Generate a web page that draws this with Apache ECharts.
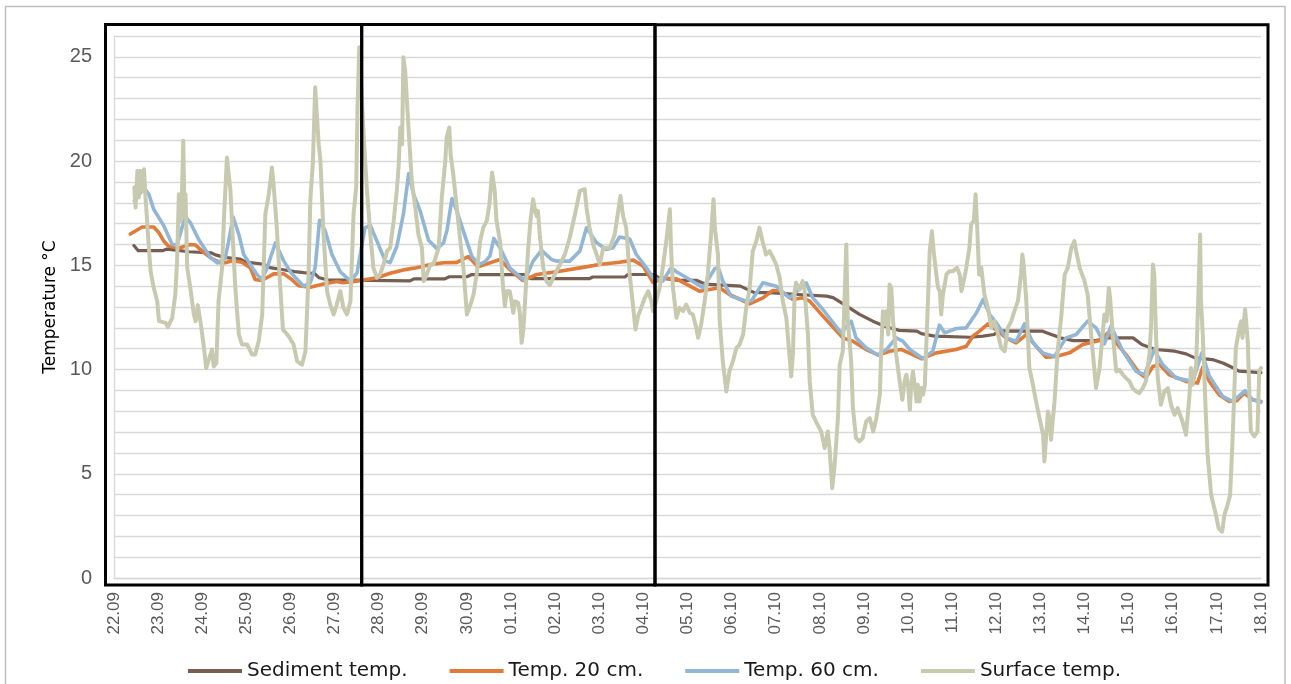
<!DOCTYPE html>
<html>
<head>
<meta charset="utf-8">
<title>Temperature °C</title>
<script src="https://cdn.jsdelivr.net/npm/echarts@6/dist/echarts.min.js"></script>
<style>
  html, body { margin: 0; padding: 0; background: #ffffff; }
  #chart { width: 1291px; height: 684px; }
</style>
</head>
<body>
<div id="chart"></div>
<script>
// Day labels on the time axis (one per day, starting at 22.09 00:00 = day 0)
const dayLabels = ['22.09','23.09','24.09','25.09','26.09','27.09','28.09','29.09','30.09',
  '01.10','02.10','03.10','04.10','05.10','06.10','07.10','08.10','09.10','10.10',
  '11.10','12.10','13.10','14.10','15.10','16.10','17.10','18.10'];

// Labelled temperature ticks
const tempTicks = [0, 5, 10, 15, 20, 25];

const seriesNames = ['Sediment temp.', 'Temp. 20 cm.', 'Temp. 60 cm.', 'Surface temp.'];

// [day since 22.09, °C]
const sediment = [[0.45,15.95],[0.55,15.7],[1.1,15.7],[1.2,15.78],[1.45,15.72],[1.7,15.65],[2.2,15.6],
  [2.3,15.5],[2.5,15.38],[2.85,15.3],[3.0,15.15],[3.4,15.05],[3.5,14.9],[3.8,14.8],[4.1,14.7],[4.3,14.65],
  [4.55,14.6],[4.65,14.4],[4.85,14.3],[6.7,14.25],[6.8,14.35],[7.5,14.35],[7.6,14.45],[8.0,14.45],
  [8.1,14.55],[9.3,14.55],[9.45,14.36],[10.78,14.36],[10.85,14.44],[11.58,14.44],[11.65,14.56],
  [12.22,14.56],[12.35,14.41],[12.8,14.28],[13.2,14.28],[13.4,14.1],[14.2,14.0],[14.5,13.7],[14.95,13.68],
  [15.5,13.6],[16.15,13.52],[16.3,13.45],[16.6,13.05],[16.9,12.65],[17.2,12.32],[17.5,12.05],[17.8,11.88],
  [18.2,11.84],[18.3,11.72],[18.6,11.6],[19.4,11.55],[19.7,11.6],[19.95,11.68],[20.05,11.85],[21.05,11.84],
  [21.2,11.72],[21.45,11.52],[21.75,11.39],[22.25,11.39],[22.55,11.52],[23.1,11.52],[23.3,11.2],
  [23.6,10.96],[24.05,10.88],[24.3,10.75],[24.5,10.56],[24.9,10.48],[25.15,10.3],[25.35,10.1],
  [25.5,9.92],[26.0,9.85]];

const temp20 = [[0.37,16.5],[0.64,16.84],[0.9,16.84],[1.02,16.56],[1.13,16.16],[1.24,15.92],[1.5,15.84],
  [1.73,16.0],[1.85,15.97],[2.0,15.68],[2.19,15.36],[2.41,15.12],[2.52,15.12],[2.68,15.22],[2.9,15.15],
  [3.09,14.88],[3.2,14.32],[3.35,14.27],[3.62,14.59],[3.85,14.59],[4.03,14.32],[4.18,14.02],[4.45,13.95],
  [4.75,14.1],[5.05,14.22],[5.2,14.16],[5.5,14.24],[5.96,14.4],[6.26,14.62],[6.56,14.78],[6.86,14.88],
  [7.17,15.04],[7.47,15.12],[7.77,15.14],[8.03,15.42],[8.22,15.0],[8.3,14.96],[8.75,15.28],[8.97,14.8],
  [9.27,14.27],[9.58,14.56],[10.03,14.69],[10.63,14.9],[11.0,15.04],[11.46,15.15],[11.77,15.25],
  [11.99,14.97],[12.22,14.17],[12.44,14.38],[12.75,14.35],[13.27,13.76],[13.73,13.92],[13.95,13.6],
  [14.41,13.15],[14.71,13.44],[14.93,13.79],[15.09,13.79],[15.39,13.36],[15.61,13.44],[15.77,13.28],
  [16.07,12.56],[16.52,11.52],[16.75,11.36],[17.05,10.96],[17.32,10.7],[17.58,10.88],[17.85,10.96],
  [18.07,10.75],[18.3,10.52],[18.64,10.8],[19.09,10.96],[19.32,11.12],[19.47,11.6],[19.62,11.84],
  [19.81,12.19],[20.04,11.84],[20.22,11.52],[20.45,11.28],[20.68,11.68],[20.9,11.12],[21.13,10.59],
  [21.36,10.63],[21.66,10.8],[21.96,11.2],[22.34,11.39],[22.53,11.76],[22.94,10.72],[23.24,9.83],
  [23.39,9.6],[23.55,10.15],[23.7,10.24],[23.92,9.75],[24.3,9.43],[24.56,9.35],[24.68,10.11],
  [24.83,9.43],[25.05,8.79],[25.28,8.47],[25.45,8.5],[25.62,8.87],[25.81,8.55],[26.0,8.47]];

const temp60 = [[0.46,18.09],[0.68,18.7],[0.79,18.41],[0.9,17.69],[1.13,16.89],[1.32,16.0],[1.43,15.97],
  [1.54,16.8],[1.62,17.32],[1.73,17.05],[1.92,16.24],[2.19,15.36],[2.34,15.12],[2.52,15.33],[2.6,16.16],
  [2.7,17.32],[2.83,16.48],[2.94,15.52],[3.09,15.04],[3.24,14.56],[3.35,14.32],[3.47,14.88],[3.66,16.08],
  [3.85,15.2],[4.03,14.59],[4.3,14.0],[4.45,14.16],[4.56,14.88],[4.66,17.16],[4.79,16.64],[4.94,15.52],
  [5.13,14.69],[5.36,14.24],[5.51,14.64],[5.58,15.52],[5.69,16.8],[5.81,16.93],[5.96,16.16],[6.15,15.2],
  [6.26,15.13],[6.41,15.9],[6.56,17.45],[6.68,19.4],[6.79,18.41],[6.94,17.61],[7.13,16.2],[7.32,15.8],
  [7.47,16.08],[7.55,16.7],[7.66,18.2],[7.77,17.61],[7.92,16.64],[8.11,15.44],[8.26,15.04],[8.4,15.15],
  [8.52,15.44],[8.61,16.29],[8.75,15.84],[8.97,14.88],[9.31,14.27],[9.5,15.2],[9.69,15.72],[9.92,15.28],
  [10.03,15.2],[10.33,15.2],[10.56,15.68],[10.71,16.8],[10.94,16.08],[11.16,15.76],[11.31,15.84],
  [11.46,16.36],[11.69,16.26],[11.84,15.52],[12.07,14.88],[12.22,14.4],[12.44,14.24],[12.63,14.88],
  [12.75,14.69],[13.05,14.32],[13.35,13.92],[13.62,14.85],[13.7,14.88],[13.8,14.24],[13.99,13.52],
  [14.33,13.28],[14.45,13.3],[14.71,14.16],[15.01,14.0],[15.31,13.44],[15.69,14.16],[15.84,13.44],
  [16.07,12.88],[16.48,11.76],[16.71,12.32],[16.82,11.52],[17.05,11.04],[17.31,10.7],[17.51,10.96],
  [17.73,11.52],[17.88,11.36],[18.04,10.96],[18.34,10.52],[18.56,10.88],[18.71,12.13],[18.83,11.76],
  [19.09,11.97],[19.32,12.0],[19.55,12.72],[19.7,13.36],[19.85,12.64],[20.0,12.24],[20.22,11.52],
  [20.45,11.36],[20.64,12.19],[20.83,11.28],[21.05,10.8],[21.32,10.63],[21.58,11.52],[21.81,11.68],
  [22.07,12.32],[22.26,12.0],[22.45,11.23],[22.6,12.08],[22.87,10.88],[23.17,9.91],[23.36,9.75],
  [23.58,10.96],[23.77,10.24],[24.07,9.6],[24.45,9.43],[24.66,10.8],[24.83,9.68],[25.13,8.71],
  [25.36,8.47],[25.64,8.99],[25.81,8.55],[26.0,8.44]];

const surface = [[0.46,18.73],[0.49,17.77],[0.53,19.53],[0.56,18.25],[0.6,19.53],[0.64,18.57],[0.68,19.61],
  [0.71,18.41],[0.75,17.13],[0.79,15.84],[0.83,14.72],[0.9,13.92],[0.98,13.28],[1.02,12.32],[1.17,12.24],
  [1.22,12.03],[1.32,12.48],[1.39,13.6],[1.43,15.2],[1.47,18.41],[1.51,17.13],[1.54,18.41],[1.57,20.97],
  [1.6,17.29],[1.62,18.41],[1.66,14.88],[1.73,13.92],[1.81,12.64],[1.85,12.32],[1.9,13.09],[1.97,12.16],
  [2.03,11.2],[2.09,10.07],[2.15,10.47],[2.22,10.96],[2.26,10.15],[2.32,10.31],[2.37,13.28],[2.45,14.88],
  [2.49,17.13],[2.56,20.17],[2.6,20.25],[2.64,18.57],[2.68,16.81],[2.75,13.92],[2.83,11.68],[2.9,11.2],
  [3.02,11.2],[3.13,10.72],[3.2,10.72],[3.28,11.36],[3.36,12.64],[3.43,17.45],[3.51,18.41],[3.58,19.69],
  [3.62,18.81],[3.69,16.81],[3.77,13.92],[3.83,11.92],[3.96,11.6],[4.07,11.2],[4.15,10.4],[4.26,10.23],
  [4.34,10.88],[4.41,14.56],[4.45,18.09],[4.51,20.01],[4.56,23.54],[4.64,20.81],[4.68,20.01],[4.75,16.48],
  [4.83,13.76],[4.9,13.12],[4.98,12.64],[5.05,13.12],[5.13,13.76],[5.2,12.96],[5.28,12.64],[5.36,13.28],
  [5.43,17.45],[5.49,18.73],[5.52,22.57],[5.56,25.46],[5.62,22.89],[5.67,20.81],[5.73,18.73],[5.81,16.48],
  [5.88,14.88],[5.96,14.4],[6.03,14.56],[6.11,15.04],[6.19,15.68],[6.26,15.84],[6.34,17.13],[6.41,18.57],
  [6.45,19.69],[6.49,21.61],[6.53,20.81],[6.56,24.98],[6.6,24.34],[6.64,22.89],[6.68,21.45],[6.75,19.05],
  [6.83,17.77],[6.9,16.48],[6.98,15.84],[7.02,14.24],[7.09,14.56],[7.17,15.04],[7.24,15.04],[7.36,15.84],
  [7.43,18.25],[7.51,20.01],[7.54,21.13],[7.6,21.61],[7.63,20.33],[7.69,19.37],[7.77,17.77],[7.85,16.16],
  [7.92,14.88],[8.0,12.64],[8.07,13.04],[8.15,13.6],[8.22,14.56],[8.3,16.16],[8.37,16.81],[8.45,17.13],
  [8.51,17.93],[8.57,19.45],[8.63,18.57],[8.67,17.13],[8.75,16.16],[8.82,13.92],[8.86,13.04],[8.9,13.76],
  [8.97,13.76],[9.01,13.28],[9.05,12.72],[9.09,13.28],[9.16,13.2],[9.2,12.72],[9.24,11.28],[9.28,11.92],
  [9.34,14.08],[9.39,15.84],[9.44,17.13],[9.5,18.17],[9.54,17.69],[9.58,17.37],[9.61,17.61],[9.65,16.48],
  [9.73,14.88],[9.8,14.24],[9.88,14.05],[9.99,14.56],[10.11,15.04],[10.22,15.52],[10.33,16.32],
  [10.45,17.45],[10.56,18.57],[10.67,18.65],[10.71,17.77],[10.78,16.81],[10.86,16.0],[10.94,15.52],
  [11.01,15.04],[11.09,15.84],[11.24,15.84],[11.35,16.48],[11.43,17.61],[11.48,18.33],[11.54,17.37],
  [11.61,16.81],[11.69,14.56],[11.77,12.96],[11.82,11.92],[11.88,12.56],[11.95,12.96],[12.03,13.44],
  [12.11,13.76],[12.18,13.28],[12.22,12.8],[12.29,13.28],[12.37,13.92],[12.45,15.04],[12.52,16.16],
  [12.6,17.69],[12.63,15.68],[12.67,13.92],[12.75,12.48],[12.82,12.96],[12.9,12.8],[12.97,13.12],
  [13.05,12.72],[13.12,12.64],[13.2,12.0],[13.24,11.52],[13.31,12.16],[13.39,13.28],[13.46,14.56],
  [13.54,16.64],[13.59,18.17],[13.62,16.81],[13.69,15.52],[13.73,12.32],[13.8,10.4],[13.88,8.95],
  [13.95,9.91],[14.03,10.4],[14.11,11.04],[14.18,11.2],[14.26,11.68],[14.33,12.96],[14.41,13.92],
  [14.48,15.68],[14.56,16.16],[14.63,16.81],[14.67,16.81],[14.71,16.08],[14.78,15.52],[14.86,15.68],
  [14.94,15.36],[15.01,15.04],[15.09,14.4],[15.16,13.28],[15.24,12.48],[15.31,10.72],[15.35,9.67],
  [15.39,10.72],[15.43,13.76],[15.46,14.16],[15.54,13.84],[15.61,14.24],[15.65,13.92],[15.73,11.68],
  [15.77,9.43],[15.84,7.83],[15.95,7.35],[16.03,7.03],[16.11,6.23],[16.18,7.03],[16.22,6.23],[16.28,4.31],
  [16.33,5.27],[16.41,7.67],[16.45,10.23],[16.52,10.88],[16.6,16.0],[16.63,12.48],[16.71,10.4],
  [16.75,8.15],[16.82,6.71],[16.9,6.55],[16.97,6.71],[17.05,7.51],[17.13,7.67],[17.21,7.03],[17.28,7.67],
  [17.36,8.79],[17.39,10.88],[17.43,12.8],[17.47,12.16],[17.51,12.8],[17.55,11.68],[17.58,14.08],
  [17.62,13.92],[17.66,12.32],[17.73,10.72],[17.81,9.43],[17.87,8.55],[17.92,9.43],[17.96,9.75],
  [18.0,9.27],[18.04,8.07],[18.07,9.27],[18.11,9.91],[18.15,9.27],[18.19,8.47],[18.22,9.27],[18.26,8.47],
  [18.3,9.11],[18.34,8.79],[18.38,9.27],[18.45,13.28],[18.49,15.68],[18.54,16.64],[18.58,15.68],
  [18.64,14.56],[18.68,13.92],[18.72,13.76],[18.75,12.64],[18.79,13.6],[18.87,14.56],[18.94,14.72],
  [19.02,14.72],[19.11,14.88],[19.17,14.56],[19.21,13.76],[19.26,14.24],[19.32,14.88],[19.39,15.84],
  [19.43,16.97],[19.49,17.13],[19.53,18.41],[19.56,17.13],[19.61,14.56],[19.66,14.88],[19.73,13.6],
  [19.81,12.96],[19.89,12.0],[19.96,12.32],[20.04,11.68],[20.11,11.04],[20.19,10.88],[20.26,12.0],
  [20.34,12.32],[20.41,12.8],[20.49,13.28],[20.56,14.56],[20.59,15.52],[20.62,15.04],[20.68,13.28],
  [20.75,10.07],[20.83,9.27],[20.9,8.47],[20.98,7.67],[21.06,6.87],[21.09,5.59],[21.17,7.99],[21.21,7.67],
  [21.24,6.63],[21.32,8.47],[21.39,10.88],[21.47,12.48],[21.55,14.56],[21.62,14.88],[21.7,15.84],
  [21.77,16.16],[21.81,15.68],[21.89,14.88],[22.0,14.24],[22.07,13.6],[22.15,11.68],[22.22,10.07],
  [22.26,9.11],[22.34,10.07],[22.41,11.68],[22.45,12.64],[22.5,12.32],[22.55,13.92],[22.58,13.44],
  [22.64,11.68],[22.72,9.91],[22.79,9.99],[22.87,9.75],[22.94,9.59],[23.02,9.43],[23.09,9.11],
  [23.17,8.95],[23.24,8.87],[23.32,9.11],[23.39,9.43],[23.47,10.72],[23.51,12.16],[23.55,15.04],
  [23.58,14.56],[23.62,11.68],[23.66,9.59],[23.73,8.31],[23.81,8.95],[23.89,9.11],[23.96,8.31],
  [24.04,7.83],[24.11,8.15],[24.22,7.51],[24.3,6.87],[24.38,8.79],[24.41,10.07],[24.45,9.27],
  [24.53,10.23],[24.59,14.24],[24.62,16.48],[24.64,13.28],[24.68,11.68],[24.75,7.83],[24.79,5.91],
  [24.87,3.98],[24.98,3.02],[25.04,2.38],[25.12,2.22],[25.17,3.02],[25.24,3.5],[25.3,3.98],[25.36,6.87],
  [25.43,11.04],[25.51,12.0],[25.55,12.32],[25.58,11.52],[25.64,12.88],[25.7,11.36],[25.73,9.27],
  [25.77,7.03],[25.85,6.79],[25.89,6.71],[25.92,7.03],[25.96,9.91],[26.0,10.07]];

const seriesData = [sediment, temp20, temp60, surface];
const seriesColors = ['#765e52', '#e07b39', '#92b6d6', '#c8cab0'];
const seriesWidths = [3.2, 3.6, 3.6, 4];

const chart = echarts.init(document.getElementById('chart'), null, { renderer: 'canvas' });

const option = {
  animation: false,
  backgroundColor: '#ffffff',
  grid: { left: 114, right: 30, top: 36, bottom: 106, containLabel: false },
  xAxis: {
    type: 'value',
    min: 0,
    max: dayLabels.length - 1,
    interval: 1,
    axisLine: { show: true, lineStyle: { color: '#d9d9d9', width: 1.3 } },
    axisTick: { show: false },
    splitLine: { show: false },
    axisLabel: {
      rotate: 90,
      margin: 14,
      color: '#595959',
      fontSize: 17,
      fontFamily: 'Liberation Sans',
      showMinLabel: true,
      showMaxLabel: true,
      formatter: v => dayLabels[Math.round(v)] || ''
    }
  },
  yAxis: {
    type: 'value',
    min: 0,
    max: 26,
    interval: 1,
    name: 'Temperature °C',
    nameLocation: 'middle',
    nameRotate: 90,
    nameGap: 52,
    nameTextStyle: { fontSize: 17, fontFamily: 'DejaVu Sans', color: '#000000' },
    axisLine: { show: true, lineStyle: { color: '#d9d9d9', width: 1.3 } },
    axisTick: { show: false },
    splitLine: { show: true, lineStyle: { color: '#d9d9d9', width: 1.3 } },
    axisLabel: {
      margin: 22,
      color: '#595959',
      fontSize: 20,
      fontFamily: 'Liberation Sans',
      formatter: v => tempTicks.includes(v) ? String(v) : ''
    }
  },
  legend: {
    data: seriesNames,
    left: 183,
    top: 656,
    icon: 'rect',
    itemWidth: 54,
    itemHeight: 4,
    itemGap: 42,
    textStyle: { fontSize: 20, fontFamily: 'DejaVu Sans', color: '#1a1a1a' }
  },
  series: seriesNames.map((name, i) => ({
    name,
    type: 'line',
    data: seriesData[i],
    showSymbol: false,
    symbol: 'none',
    clip: true,
    color: seriesColors[i],
    lineStyle: { width: seriesWidths[i], color: seriesColors[i], cap: 'round', join: 'round' },
    z: 2 + i
  })),
  graphic: [
    // outer chart-area frame
    { type: 'rect', z: 0, silent: true,
      shape: { x: 5.5, y: 6.5, width: 1279.5, height: 700 },
      style: { fill: null, stroke: '#bfbfbf', lineWidth: 1.5 } },
    // three period boxes
    { type: 'rect', z: 100, silent: true,
      shape: { x: 105.5, y: 24.5, width: 256.2, height: 560.5 },
      style: { fill: null, stroke: '#000000', lineWidth: 3 } },
    { type: 'rect', z: 100, silent: true,
      shape: { x: 361.7, y: 24.5, width: 293.3, height: 560.5 },
      style: { fill: null, stroke: '#000000', lineWidth: 3 } },
    { type: 'rect', z: 100, silent: true,
      shape: { x: 655, y: 24.8, width: 613, height: 560.2 },
      style: { fill: null, stroke: '#000000', lineWidth: 3 } }
  ]
};

chart.setOption(option);
</script>
</body>
</html>
